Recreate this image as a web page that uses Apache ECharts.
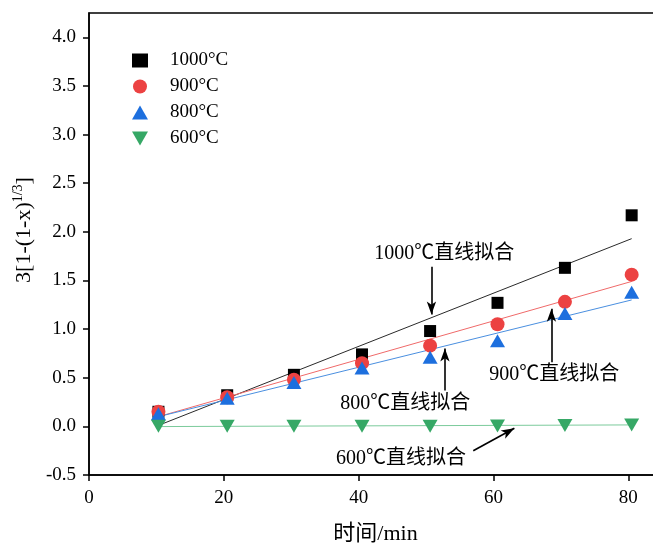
<!DOCTYPE html>
<html>
<head>
<meta charset="utf-8">
<script src="https://cdn.jsdelivr.net/npm/echarts@6/dist/echarts.min.js"></script>
<style>
  html, body { margin: 0; padding: 0; background: #fff; overflow: hidden; }
  #chart { width: 662px; height: 546px; }
</style>
</head>
<body>
<div id="chart"></div>
<script>
// Reaction time (min)
const times = [10.3, 20.5, 30.4, 40.5, 50.6, 60.6, 70.6, 80.5];

// 3[1-(1-x)^(1/3)] measured at each temperature
const y1000 = [0.15, 0.32, 0.53, 0.74, 0.98, 1.27, 1.63, 2.17];
const y900  = [0.15, 0.30, 0.48, 0.65, 0.83, 1.05, 1.28, 1.56];
const y800  = [0.13, 0.29, 0.45, 0.60, 0.71, 0.88, 1.16, 1.38];
const y600  = [0.00, 0.00, 0.00, 0.00, 0.00, 0.005, 0.01, 0.015];

// Linear-fit end points [x, y] for each temperature
const fit1000 = [[10.3, 0.01], [80.5, 1.93]];
const fit900  = [[10.3, 0.10], [80.5, 1.49]];
const fit800  = [[10.3, 0.10], [80.5, 1.30]];
const fit600  = [[10.3, -0.002], [80.5, 0.015]];

const seriesNames = ['1000°C', '900°C', '800°C', '600°C'];
const yTicks = [-0.5, 0, 0.5, 1, 1.5, 2, 2.5, 3, 3.5, 4];
const xTicks = [0, 20, 40, 60, 80];

// Fit-line callouts: label text, label anchor, arrow tail, arrow tip
const callouts = [
  { text: '1000℃直线拟合', at: [52.7, 1.77], from: [50.8, 1.64], to: [50.8, 1.15] },
  { text: '800℃直线拟合',  at: [46.9, 0.23], from: [52.8, 0.37], to: [52.8, 0.80] },
  { text: '900℃直线拟合',  at: [69.0, 0.53], from: [68.6, 0.66], to: [68.6, 1.21] },
  { text: '600℃直线拟合',  at: [46.3, -0.33], from: [57.0, -0.25], to: [63.1, -0.02] }
];

const serif = '"Liberation Serif", "Times New Roman", "Noto Sans CJK SC", serif';
const pts = ys => times.map((t, i) => [t, ys[i]]);
const downTriangle = 'path://M0,0 L10,0 L5,8.7 Z';

const chart = echarts.init(document.getElementById('chart'), null, { renderer: 'canvas' });

const fitLine = (name, data, color) => ({
  name, type: 'line', data, symbol: 'none', z: 3, silent: true,
  lineStyle: { color, width: 1 }, animation: false
});

const option = {
  animation: false,
  backgroundColor: '#fff',
  grid: {
    left: 89, top: 13, bottom: 71, right: 0,
    outerBoundsMode: 'none', containLabel: false,
    show: true, borderColor: '#000', borderWidth: 1.5, backgroundColor: 'transparent'
  },
  legend: {
    data: [
      { name: seriesNames[0], icon: 'rect' },
      { name: seriesNames[1], icon: 'circle' },
      { name: seriesNames[2], icon: 'triangle' },
      { name: seriesNames[3], icon: downTriangle }
    ],
    orient: 'vertical',
    left: 127, top: 46,
    itemWidth: 16, itemHeight: 14, itemGap: 7,
    textStyle: { fontFamily: serif, fontSize: 19, color: '#000', padding: [0, 0, 0, 17] }
  },
  xAxis: {
    type: 'value', min: 0, max: 85, interval: 20,
    name: '时间/min', nameLocation: 'middle', nameGap: 48,
    nameTextStyle: { fontFamily: serif, fontSize: 22, color: '#000' },
    axisLine: { show: true, onZero: false, lineStyle: { color: '#000', width: 1.5 } },
    axisTick: { show: true, length: 6, inside: false, customValues: xTicks, lineStyle: { color: '#000', width: 1.5 } },
    axisLabel: { customValues: xTicks, margin: 14, fontFamily: serif, fontSize: 19, color: '#000' },
    splitLine: { show: false }
  },
  yAxis: {
    type: 'value', min: -0.5, max: 4.25,
    name: '{a|3[1-(1-x)}{s|1/3}{a|]}', nameLocation: 'middle', nameGap: 52, nameRotate: 90,
    nameTextStyle: {
      fontFamily: serif, color: '#000', padding: [0, 0, 0, 28],
      rich: {
        a: { fontFamily: serif, fontSize: 22, color: '#000' },
        s: { fontFamily: serif, fontSize: 14, color: '#000', padding: [0, 0, 11, 0] }
      }
    },
    axisLine: { show: true, onZero: false, lineStyle: { color: '#000', width: 1.5 } },
    axisTick: { show: true, length: 6, inside: false, customValues: yTicks, lineStyle: { color: '#000', width: 1.5 } },
    axisLabel: {
      customValues: yTicks, margin: 13, fontFamily: serif, fontSize: 19, color: '#000',
      formatter: v => v.toFixed(1)
    },
    splitLine: { show: false }
  },
  series: [
    fitLine('fit1000', fit1000, '#2a2a2a'),
    fitLine('fit900', fit900, '#f06a6a'),
    fitLine('fit800', fit800, '#4a8fe0'),
    fitLine('fit600', fit600, '#7ccb9c'),
    {
      name: seriesNames[0], type: 'scatter', data: pts(y1000), z: 4,
      symbol: 'rect', symbolSize: 12, itemStyle: { color: '#000', opacity: 1 }
    },
    {
      name: seriesNames[1], type: 'scatter', data: pts(y900), z: 5,
      symbol: 'circle', symbolSize: 14, itemStyle: { color: '#ec4242', opacity: 1 }
    },
    {
      name: seriesNames[2], type: 'scatter', data: pts(y800), z: 6,
      symbol: 'triangle', symbolSize: [15, 13], itemStyle: { color: '#1d6fde', opacity: 1 }
    },
    {
      name: seriesNames[3], type: 'scatter', data: pts(y600), z: 7,
      symbol: 'triangle', symbolRotate: 180, symbolSize: [15, 13], itemStyle: { color: '#36a866', opacity: 1 }
    },
    {
      name: 'callouts', type: 'line', data: [], z: 8, silent: true,
      markLine: {
        silent: true, animation: false,
        symbol: ['none', 'arrow'], symbolSize: [7, 13],
        lineStyle: { color: '#000', width: 1.6, type: 'solid' },
        label: { show: false },
        data: callouts.map(c => [{ coord: c.from }, { coord: c.to }])
      },
      markPoint: {
        silent: true, animation: false,
        symbol: 'rect', symbolSize: 0,
        label: {
          show: true, position: 'inside',
          fontFamily: serif, fontSize: 20, color: '#000',
          formatter: p => p.name
        },
        data: callouts.map(c => ({ name: c.text, coord: c.at }))
      }
    }
  ]
};

chart.setOption(option);
</script>
</body>
</html>
